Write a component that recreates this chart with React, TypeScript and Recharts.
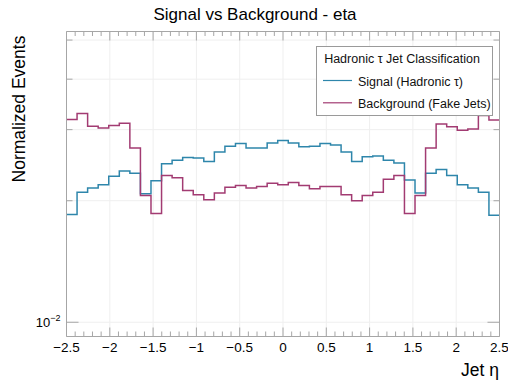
import React from 'react';
import { LineChart, Line, XAxis, YAxis, ReferenceLine, Legend } from 'recharts';

const ETA_MIN = -2.5;
const ETA_MAX = 2.5;

const signalValues = [
  0.0185, 0.0210, 0.0215, 0.0219, 0.0230, 0.0237, 0.0234, 0.0208, 0.0224, 0.0247,
  0.0252, 0.0256, 0.0255, 0.0250, 0.0264, 0.0273, 0.0277, 0.0270, 0.0270, 0.0278,
  0.0282, 0.0278, 0.0272, 0.0273, 0.0277, 0.0275, 0.0264, 0.0250, 0.0257, 0.0258,
  0.0252, 0.0248, 0.0225, 0.0209, 0.0234, 0.0239, 0.0231, 0.0219, 0.0215, 0.0210, 0.0184,
];

const backgroundValues = [
  0.0318, 0.0329, 0.0306, 0.0303, 0.0307, 0.0311, 0.0270, 0.0206, 0.0186, 0.0231,
  0.0228, 0.0212, 0.0207, 0.0201, 0.0209, 0.0216, 0.0218, 0.0215, 0.0217, 0.0221,
  0.0219, 0.0222, 0.0218, 0.0214, 0.0217, 0.0217, 0.0207, 0.0200, 0.0206, 0.0210,
  0.0226, 0.0231, 0.0186, 0.0206, 0.0270, 0.0310, 0.0305, 0.0299, 0.0301, 0.0325, 0.0317,
];

const seriesNames = ['Signal (Hadronic τ)', 'Background (Fake Jets)'];
const xMajorTicks = [-2.5, -2, -1.5, -1, -0.5, 0, 0.5, 1, 1.5, 2, 2.5];
const xTickLabels = ['−2.5', '−2', '−1.5', '−1', '−0.5', '0', '0.5', '1', '1.5', '2', '2.5'];
const xGridValues = [-2, -1.5, -1, -0.5, 0, 0.5, 1, 1.5, 2];
const yTicks = [0.01, 0.02, 0.03, 0.04, 0.05];
const Y_DOMAIN: [number, number] = [0.00922, 0.0525];

const SIGNAL_COLOR = '#2E86AB';
const BACKGROUND_COLOR = '#A23B72';
const FRAME = '#a6a6a6';
const GRID = '#efefef';
const FONT = '"Liberation Sans", Arial, Helvetica, sans-serif';

const nBins = signalValues.length;
const binWidth = (ETA_MAX - ETA_MIN) / nBins;
const data = Array.from({ length: nBins + 1 }, (_, i) => ({
  eta: ETA_MIN + i * binWidth,
  signal: signalValues[Math.min(i, nBins - 1)],
  background: backgroundValues[Math.min(i, nBins - 1)],
}));

const xAllTicks = Array.from({ length: 51 }, (_, i) => Math.round((ETA_MIN + i * 0.1) * 10) / 10);
const isMajor = (v: number) => Math.abs(v * 2 - Math.round(v * 2)) < 1e-6;
const labelFor = (v: number) => {
  const idx = xMajorTicks.findIndex((t) => Math.abs(t - v) < 1e-6);
  return idx >= 0 ? xTickLabels[idx] : '';
};

const BottomTick = (props: any) => {
  const { x, y, payload } = props;
  const v = payload.value;
  const major = isMajor(v);
  return (
    <g>
      <line x1={x} x2={x} y1={y} y2={y - (major ? 9 : 5)} stroke={FRAME} strokeWidth={1} />
      {major && (
        <text x={x} y={y + 15} textAnchor="middle" fontSize={13.5} fill="#000" fontFamily={FONT}>
          {labelFor(v)}
        </text>
      )}
    </g>
  );
};

const TopTick = (props: any) => {
  const { x, y, payload } = props;
  const major = isMajor(payload.value);
  return <line x1={x} x2={x} y1={y} y2={y + (major ? 9 : 4.5)} stroke={FRAME} strokeWidth={1} />;
};

const LeftTick = (props: any) => {
  const { x, y, payload } = props;
  const major = Math.abs(payload.value - 0.01) < 1e-9;
  return (
    <g>
      <line x1={x} x2={x + (major ? 12 : 6)} y1={y} y2={y} stroke={FRAME} strokeWidth={1} />
      {major && (
        <text x={x - 6} y={y + 5} textAnchor="end" fontSize={13} fill="#000" fontFamily={FONT}>
          10<tspan dy={-6} fontSize={9}>−2</tspan>
        </text>
      )}
    </g>
  );
};

const RightTick = (props: any) => {
  const { x, y, payload } = props;
  const major = Math.abs(payload.value - 0.01) < 1e-9;
  return <line x1={x} x2={x - (major ? 12 : 6)} y1={y} y2={y} stroke={FRAME} strokeWidth={1} />;
};

const LegendContent = (props: any) => {
  const payload = [...(props.payload || [])].sort(
    (a: any, b: any) => seriesNames.indexOf(a.value) - seriesNames.indexOf(b.value)
  );
  return (
    <svg width={178} height={71} style={{ display: 'block' }}>
      <rect x={0.5} y={0.5} width={176} height={69} fill="#fff" stroke="#9a9a9a" strokeWidth={1} />
      <text x={86} y={17} textAnchor="middle" fontSize={12.5} fill="#111" fontFamily={FONT}>
        Hadronic τ Jet Classification
      </text>
      {payload.map((p: any, i: number) => (
        <g key={i}>
          <line x1={7} x2={36} y1={34.5 + i * 22.3} y2={34.5 + i * 22.3} stroke={p.color} strokeWidth={1.2} />
          <text x={42} y={39.5 + i * 22.3} fontSize={12.5} fill="#111" fontFamily={FONT}>
            {p.value}
          </text>
        </g>
      ))}
    </svg>
  );
};

export default function App() {
  return (
    <div style={{ position: 'absolute', left: 0, top: 0, width: 508, height: 385, background: '#fff', fontFamily: FONT }}>
      <LineChart
        width={508}
        height={385}
        data={data}
        margin={{ top: 30.5, right: 7.5, bottom: 47.5, left: 65.5 }}
      >
        {xGridValues.map((v) => (
          <ReferenceLine key={'gx' + v} x={v} xAxisId="b" yAxisId="l" stroke={GRID} strokeWidth={1} />
        ))}
        {yTicks.map((v) => (
          <ReferenceLine key={'gy' + v} y={v} xAxisId="b" yAxisId="l" stroke={GRID} strokeWidth={1} />
        ))}
        <XAxis
          xAxisId="b"
          dataKey="eta"
          type="number"
          domain={[ETA_MIN, ETA_MAX]}
          allowDataOverflow
          ticks={xAllTicks}
          interval={0}
          height={1}
          tickSize={0}
          tickMargin={0}
          tickLine={false}
          axisLine={{ stroke: FRAME, strokeWidth: 1 }}
          tick={<BottomTick />}
        />
        <XAxis
          xAxisId="t"
          orientation="top"
          dataKey="eta"
          type="number"
          domain={[ETA_MIN, ETA_MAX]}
          allowDataOverflow
          ticks={xAllTicks}
          interval={0}
          height={1}
          tickSize={0}
          tickMargin={0}
          tickLine={false}
          axisLine={{ stroke: FRAME, strokeWidth: 1 }}
          tick={<TopTick />}
        />
        <YAxis
          yAxisId="l"
          type="number"
          scale="log"
          domain={Y_DOMAIN}
          allowDataOverflow
          ticks={yTicks}
          interval={0}
          width={1}
          tickSize={0}
          tickMargin={0}
          tickLine={false}
          axisLine={{ stroke: FRAME, strokeWidth: 1 }}
          tick={<LeftTick />}
        />
        <YAxis
          yAxisId="r"
          orientation="right"
          type="number"
          scale="log"
          domain={Y_DOMAIN}
          allowDataOverflow
          ticks={yTicks}
          interval={0}
          width={1}
          tickSize={0}
          tickMargin={0}
          tickLine={false}
          axisLine={{ stroke: FRAME, strokeWidth: 1 }}
          tick={<RightTick />}
        />
        <Line
          xAxisId="b"
          yAxisId="l"
          type="stepAfter"
          dataKey="signal"
          name={seriesNames[0]}
          stroke={SIGNAL_COLOR}
          strokeWidth={1.5}
          dot={false}
          activeDot={false}
          isAnimationActive={false}
        />
        <Line
          xAxisId="b"
          yAxisId="l"
          type="stepAfter"
          dataKey="background"
          name={seriesNames[1]}
          stroke={BACKGROUND_COLOR}
          strokeWidth={1.5}
          dot={false}
          activeDot={false}
          isAnimationActive={false}
        />
        <Legend
          layout="horizontal"
          verticalAlign="middle"
          align="center"
          content={<LegendContent />}
          wrapperStyle={{ position: 'absolute', left: 316, top: 46, width: 178, height: 71 }}
        />
      </LineChart>
      <svg
        width={508}
        height={385}
        style={{ position: 'absolute', left: 0, top: 0, pointerEvents: 'none' }}
      >
        <text x={255} y={19.5} textAnchor="middle" fontSize={17} fill="#000" fontFamily={FONT}>
          Signal vs Background - eta
        </text>
        <text
          x={25}
          y={109}
          textAnchor="middle"
          fontSize={17.5}
          fill="#000"
          fontFamily={FONT}
          transform="rotate(-90, 25, 109)"
        >
          Normalized Events
        </text>
        <text x={499} y={376} textAnchor="end" fontSize={17.5} fill="#000" fontFamily={FONT}>
          Jet η
        </text>
      </svg>
    </div>
  );
}
